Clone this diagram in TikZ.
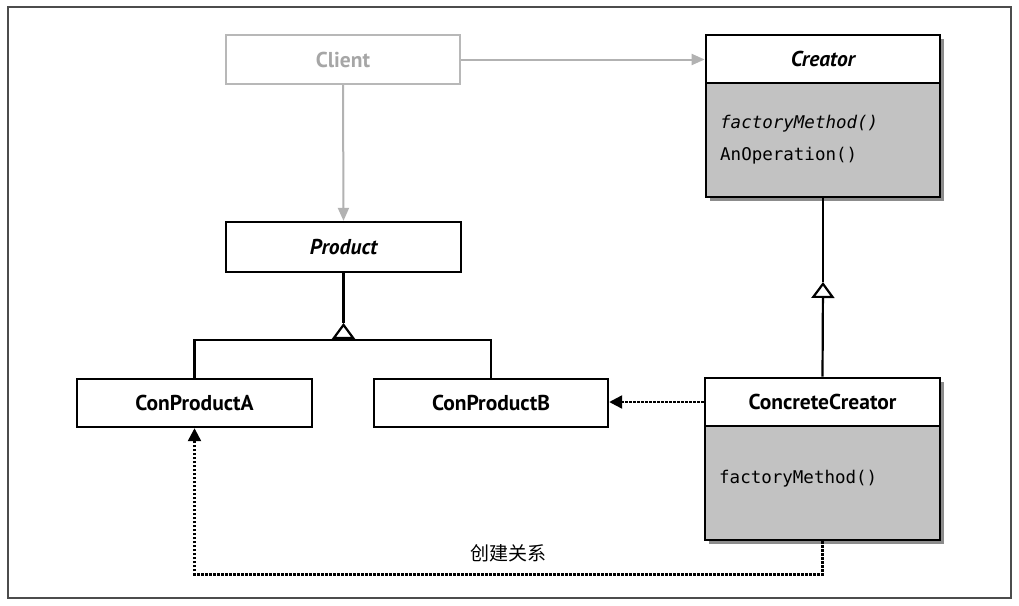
\documentclass[tikz,border=0pt]{standalone}
\usepackage{fontspec}
\setmainfont{PT Sans}
\setmonofont{DejaVu Sans Mono}
\newfontfamily\cjk{Noto Sans CJK SC}
\usetikzlibrary{arrows.meta,shadows}
\begin{document}
\begin{tikzpicture}[x=1pt,y=-1pt,
  box/.style={draw, line width=2.4pt, fill=white, minimum width=#1, minimum height=48pt, inner sep=0pt,
    font=\fontsize{21.5}{24}\selectfont\bfseries},
  box/.default=235pt,
  classbody/.style={draw, line width=2.8pt, fill=black!24, minimum width=234pt, minimum height=162pt, inner sep=0pt,
    drop shadow={shadow xshift=4pt, shadow yshift=-4pt, fill=black!75, opacity=0.6}},
  meth/.style={anchor=base west, inner sep=0pt, font=\fontsize{17.5}{20}\selectfont\ttfamily},
  conn/.style={line width=2.2pt},
  grayarrow/.style={line width=2pt, draw=black!30, -{Triangle[length=13pt,width=11pt,fill=black!30]}},
  dotarrow/.style={line width=2.4pt, dash pattern=on 2.2pt off 1.8pt, -{Triangle[length=13pt,width=13pt]}},
  gentip/.style={line width=2.2pt, -{Triangle[open,length=16pt,width=23pt,fill=white]}},
  lbl/.style={font=\cjk\fontsize{19}{22}\selectfont, inner sep=0pt}]
\useasboundingbox (0,0) rectangle (1019,605);
\fill[white] (0,0) rectangle (1019,605);
\draw[black!70, line width=2pt] (8,7) rectangle (1011,598);

% classes
\node[box=234pt, draw=black!28, text=black!35, minimum height=49pt] (client) at (343,59.5) {Client};
\node[box=235pt, minimum height=50pt, font=\fontsize{21.5}{24}\selectfont\bfseries\itshape] (product) at (343.5,247) {Product};
\node[box=235pt] (conA) at (194.5,403) {ConProductA};
\node[box=234pt] (conB) at (491,403) {ConProductB};

\node[classbody] (creator) at (823,116) {};
\node[box=234pt, line width=2.8pt, font=\fontsize{21.5}{24}\selectfont\bfseries\itshape] (creatorH) at (823,59) {Creator};
\node[meth] (cm1) at (720,128) {\itshape factoryMethod()};
\node[meth] (cm2) at (720,160) {AnOperation()};

\node[classbody, minimum width=235pt] (concrete) at (822.5,459) {};
\node[box=235pt, line width=2.8pt] (concreteH) at (822.5,402) {ConcreteCreator};
\node[meth] (ccm1) at (719,483) {factoryMethod()};

% associations
\draw[grayarrow] (client.east) -- (client.east -| creatorH.west);
\draw[grayarrow] (client.south) -- (product.north);

% generalization Product
\coordinate (g1) at (343.5,323);
\coordinate (bm) at (343.5,340);
\draw[conn] (product.south) -- (g1);
\draw[gentip] (bm) -- (g1);
\draw[conn] (conA.north) |- (bm) -| (conB.north);

% generalization Creator
\coordinate (g2) at (823,282);
\draw[conn] (creator.south) -- (g2);
\draw[gentip] (concreteH.north) -- (g2);

% dependencies
\draw[dotarrow] (concreteH.west) -- (concreteH.west -| conB.east);
\draw[dotarrow] (concrete.south) -- ++(0,33) -| (conA.south);
\node[lbl] (label) at (508,553) {创建关系};
\end{tikzpicture}
\end{document}
